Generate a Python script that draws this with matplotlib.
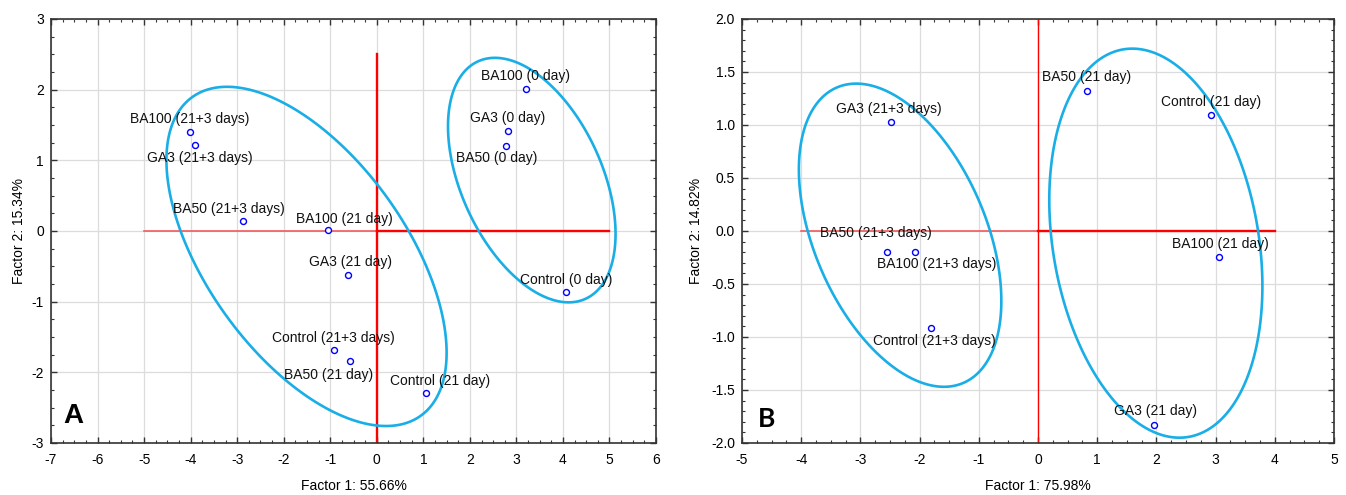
import numpy as np
import matplotlib.pyplot as plt
from matplotlib.patches import Polygon
from matplotlib.ticker import MultipleLocator

plt.rcParams['font.family'] = ['Liberation Sans', 'DejaVu Sans']
plt.rcParams['axes.unicode_minus'] = False

# panel A
labels_a = ["BA100 (0 day)", "GA3 (0 day)", "BA50 (0 day)", "Control (0 day)",
            "BA100 (21+3 days)", "GA3 (21+3 days)", "BA50 (21+3 days)",
            "BA100 (21 day)", "GA3 (21 day)", "Control (21+3 days)",
            "BA50 (21 day)", "Control (21 day)"]
f1_a = [3.20, 2.82, 2.77, 4.06, -4.02, -3.90, -2.88, -1.05, -0.61, -0.93, -0.57, 1.06]
f2_a = [2.01, 1.42, 1.20, -0.87, 1.40, 1.21, 0.14, 0.02, -0.62, -1.69, -1.84, -2.29]
# label offsets (pixels)
dx_a = [0, 0, -9, 0, 0, 5, -14, 16, 2, 0, -22, 14]
dy_a = [13, 13, -12, 12, 13, -13, 12, 11, 13, 12, -14, 12]
# ellipses: centre x, centre y, x half-extent, y half-extent, covariance term
ell_a = [(-1.51, -0.36, 3.01, 2.40, -4.10),
         (3.33, 0.72, 1.80, 1.73, -1.37)]

# panel B
labels_b = ["BA50 (21 day)", "Control (21 day)", "GA3 (21+3 days)",
            "BA50 (21+3 days)", "BA100 (21+3 days)", "BA100 (21 day)",
            "Control (21+3 days)", "GA3 (21 day)"]
f1_b = [0.83, 2.92, -2.49, -2.55, -2.08, 3.05, -1.80, 1.96]
f2_b = [1.32, 1.09, 1.03, -0.20, -0.20, -0.245, -0.915, -1.83]
dx_b = [-1, 0, -2, -11, 22, 2, 3, 1]
dy_b = [14, 13, 13, 19, -12, 13, -13, 14]
ell_b = [(-2.33, -0.04, 1.71, 1.43, -1.06),
         (1.99, -0.115, 1.80, 1.835, -0.73)]

# red cross lines: (h from, h to), (v from, v to)
cross_a = ((-5, 5), (-3, 2.5))
cross_b = ((-4, 4), (-2, 2))

ell_color = '#1aaee6'


def draw_ellipse(ax, e):
    cx, cy, rx, ry, sxy = e
    L = np.linalg.cholesky(np.array([[rx ** 2, sxy], [sxy, ry ** 2]]))
    t = np.linspace(0, 2 * np.pi, 360, endpoint=False)
    pts = L @ np.vstack([np.cos(t), np.sin(t)])
    xy = np.column_stack([cx + pts[0], cy + pts[1]])
    ax.add_patch(Polygon(xy, closed=True, fill=False, edgecolor=ell_color,
                         lw=1.9, zorder=3, joinstyle='round'))


def style_axes(ax, xminor, yminor):
    ax.grid(True, which='major', color='#dcdcdc', lw=0.9, zorder=0)
    ax.set_axisbelow(True)
    ax.xaxis.set_minor_locator(MultipleLocator(xminor))
    ax.yaxis.set_minor_locator(MultipleLocator(yminor))
    ax.tick_params(which='both', direction='in', top=True, right=True,
                   labelsize=10, color='#333333')
    ax.tick_params(which='major', length=4, width=1)
    ax.tick_params(which='minor', length=2.5, width=0.8)
    ax.tick_params(axis='x', pad=7)
    ax.tick_params(axis='y', pad=5)
    for s in ax.spines.values():
        s.set_color('#333333')
        s.set_linewidth(1.2)


def panel(ax, labels, f1, f2, dx, dy, ells, cross, vlw):
    (h0, h1), (v0, v1) = cross
    ax.plot([h0, 0], [0, 0], color='#f25a5a', lw=1.2, zorder=2)
    ax.plot([0, h1], [0, 0], color='#ff0000', lw=1.7, zorder=2)
    ax.plot([0, 0], [v0, v1], color='#ff0000', lw=vlw, zorder=2)
    for e in ells:
        draw_ellipse(ax, e)
    ax.plot(f1, f2, 'o', ms=4.3, mfc='white', mec='#0000ff', mew=1.0, zorder=4)
    for lab, x, y, ox, oy in zip(labels, f1, f2, dx, dy):
        ax.annotate(lab, (x, y), xytext=(ox, oy), textcoords='offset pixels',
                    ha='center', va='center', fontsize=10, color='#111111', zorder=5)


fig = plt.figure(figsize=(13.46, 4.95), dpi=100)
ax1 = fig.add_axes([0.0379, 0.1051, 0.4495, 0.8566])
ax2 = fig.add_axes([0.5513, 0.1051, 0.4398, 0.8566])

panel(ax1, labels_a, f1_a, f2_a, dx_a, dy_a, ell_a, cross_a, 1.7)
ax1.set_xlim(-7, 6)
ax1.set_ylim(-3, 3)
ax1.set_xticks(range(-7, 7))
ax1.set_yticks(range(-3, 4))
style_axes(ax1, 0.25, 0.25)
ax1.set_xlabel("Factor 1: 55.66%", fontsize=10, labelpad=9)
ax1.set_ylabel("Factor 2: 15.34%", fontsize=10, labelpad=4)
ax1.text(0.020, 0.047, "A", transform=ax1.transAxes, fontsize=20,
         fontweight='bold', ha='left', va='baseline')

panel(ax2, labels_b, f1_b, f2_b, dx_b, dy_b, ell_b, cross_b, 1.0)
ax2.set_xlim(-5, 5)
ax2.set_ylim(-2, 2)
ax2.set_xticks(range(-5, 6))
ax2.set_yticks(np.arange(-2, 2.01, 0.5))
ax2.yaxis.set_major_formatter(plt.FormatStrFormatter('%.1f'))
style_axes(ax2, 0.25, 0.1)
ax2.set_xlabel("Factor 1: 75.98%", fontsize=10, labelpad=9)
ax2.set_ylabel("Factor 2: 14.82%", fontsize=10, labelpad=6)
ax2.text(0.027, 0.038, "B", transform=ax2.transAxes, fontsize=19,
         fontweight='bold', ha='left', va='baseline', family=['Lato', 'DejaVu Sans'])

fig.savefig('out.png', dpi=100)
